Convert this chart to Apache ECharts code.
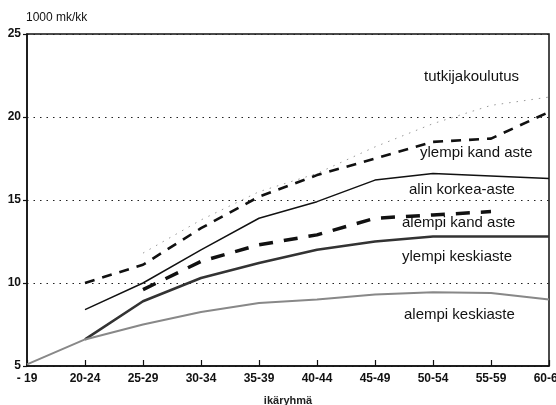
<!DOCTYPE html>
<html>
<head>
<meta charset="utf-8">
<script src="https://cdn.jsdelivr.net/npm/echarts@6/dist/echarts.min.js"></script>
<style>
  html, body { margin: 0; padding: 0; background: #fff; }
  #chart { width: 556px; height: 405px; }
</style>
</head>
<body>
<div id="chart"></div>
<script>
// age groups (x axis)
const ageGroups = ["- 19", "20-24", "25-29", "30-34", "35-39", "40-44", "45-49", "50-54", "55-59", "60-64"];

// monthly income, 1000 mk/kk
const alempiKeskiaste = [5.1, 6.6, 7.5, 8.25, 8.8, 9.0, 9.3, 9.45, 9.4, 9.0];
const ylempiKeskiaste = [null, 6.6, 8.9, 10.3, 11.2, 12.0, 12.5, 12.8, 12.8, 12.8];
const alempiKand = [null, null, 9.6, 11.3, 12.3, 12.9, 13.9, 14.1, 14.3, null];
const alinKorkea = [null, 8.4, 10.0, 12.0, 13.9, 14.9, 16.2, 16.6, 16.45, 16.3];
const ylempiKand = [null, 10.0, 11.1, 13.3, 15.2, 16.5, 17.5, 18.5, 18.7, 20.3];
const tutkija = [null, null, 11.8, 13.8, 15.5, 16.6, 18.2, 19.6, 20.7, 21.2];

const chart = echarts.init(document.getElementById("chart"));

const labelFont = { fontFamily: "Liberation Sans", fontSize: 15, fill: "#111" };

// inline series names drawn inside the plot
const seriesLabels = [
    { text: "tutkijakoulutus", x: 424, y: 69 },
    { text: "ylempi kand aste", x: 420, y: 145 },
    { text: "alin korkea-aste", x: 409, y: 182 },
    { text: "alempi kand aste", x: 402, y: 215 },
    { text: "ylempi keskiaste", x: 402, y: 249 },
    { text: "alempi keskiaste", x: 404, y: 307 },
];

const lineSeries = (name, data, style) => ({
    name: name,
    type: "line",
    data: data,
    symbol: "none",
    connectNulls: false,
    lineStyle: style,
    z: 3,
});

chart.setOption({
    animation: false,
    backgroundColor: "#fff",
    grid: {
        left: 27,
        right: 7,
        top: 34,
        bottom: 39,
        containLabel: false,
        outerBoundsMode: "none",
        show: true,
        borderColor: "#111",
        borderWidth: 1.5,
    },
    xAxis: {
        type: "category",
        data: ageGroups,
        boundaryGap: false,
        name: "ikäryhmä",
        nameLocation: "middle",
        nameGap: 29,
        nameTextStyle: { fontFamily: "Liberation Sans", fontSize: 11, fontWeight: "bold", color: "#222" },
        axisLine: { lineStyle: { color: "#111", width: 1.5 } },
        axisTick: { inside: true, length: 6, alignWithLabel: true, lineStyle: { color: "#111", width: 1.2 } },
        axisLabel: {
            interval: 0,
            margin: 7,
            hideOverlap: false,
            fontFamily: "Liberation Sans",
            fontSize: 12,
            fontWeight: "bold",
            color: "#111",
        },
        splitLine: { show: false },
    },
    yAxis: {
        type: "value",
        min: 5,
        max: 25,
        interval: 5,
        name: "1000 mk/kk",
        nameLocation: "end",
        nameGap: 10,
        nameTextStyle: { fontFamily: "Liberation Sans", fontSize: 12, color: "#111", align: "left", padding: [0, 0, 0, -1] },
        axisLine: { show: true, lineStyle: { color: "#111", width: 1.5 } },
        axisTick: { show: true, length: 4, lineStyle: { color: "#111", width: 1.2 } },
        axisLabel: {
            margin: 6,
            fontFamily: "Liberation Sans",
            fontSize: 12,
            fontWeight: "bold",
            color: "#111",
        },
        splitLine: { show: true, lineStyle: { color: "#222", width: 1.2, type: [1.5, 5] } },
    },
    series: [
        lineSeries("tutkijakoulutus", tutkija, { color: "#999", width: 1, type: [1.5, 6] }),
        lineSeries("ylempi kand aste", ylempiKand, { color: "#111", width: 2.6, type: [10, 8] }),
        lineSeries("alin korkea-aste", alinKorkea, { color: "#111", width: 1.5 }),
        lineSeries("alempi kand aste", alempiKand, { color: "#111", width: 3.5, type: [14, 11] }),
        lineSeries("ylempi keskiaste", ylempiKeskiaste, { color: "#333", width: 2.6 }),
        lineSeries("alempi keskiaste", alempiKeskiaste, { color: "#888", width: 2 }),
    ],
    graphic: seriesLabels.map((l) => ({
        type: "text",
        left: l.x,
        top: l.y,
        z: 10,
        style: Object.assign({ text: l.text }, labelFont),
    })),
});
</script>
</body>
</html>
